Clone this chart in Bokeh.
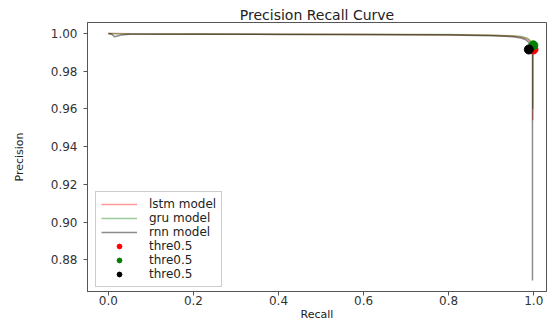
from bokeh.plotting import figure
from bokeh.embed import file_html
from bokeh.resources import INLINE
from bokeh.models import FixedTicker, PrintfTickFormatter, Range1d, Legend, LegendItem

# Data
recall_lstm = [0.0, 0.05, 0.2, 0.4, 0.6, 0.8, 0.9, 0.95, 0.97, 0.98, 0.987, 0.992, 0.996, 0.998, 0.998, 0.998]
precision_lstm = [1.0, 0.9998, 0.9997, 0.9996, 0.9995, 0.9993, 0.9990, 0.9986, 0.9981, 0.9975, 0.9967, 0.9955, 0.9935, 0.9915, 0.975, 0.954]

recall_gru = [0.0, 0.05, 0.2, 0.4, 0.6, 0.8, 0.9, 0.95, 0.97, 0.98, 0.987, 0.992, 0.996, 0.998, 0.998]
precision_gru = [1.0, 0.9998, 0.9997, 0.9996, 0.9995, 0.9994, 0.9991, 0.9988, 0.9984, 0.9979, 0.9972, 0.9962, 0.9945, 0.9925, 0.960]

recall_rnn = [0.0, 0.008, 0.015, 0.03, 0.05, 0.2, 0.4, 0.6, 0.8, 0.9, 0.95, 0.97, 0.98, 0.986, 0.99, 0.994, 0.997, 0.997, 0.997]
precision_rnn = [1.0, 0.9996, 0.9982, 0.9992, 0.9996, 0.9996, 0.9995, 0.9994, 0.9992, 0.9988, 0.9983, 0.9976, 0.9968, 0.9958, 0.9945, 0.9925, 0.990, 0.95, 0.869]

thr_lstm = ([0.9995], [0.9915])
thr_gru = ([0.9990], [0.9937])
thr_rnn = ([0.9885], [0.9915])

x_ticks = [0.0, 0.2, 0.4, 0.6, 0.8, 1.0]
y_ticks = [0.88, 0.90, 0.92, 0.94, 0.96, 0.98, 1.00]

p = figure(width=550, height=323, output_backend="svg", toolbar_location=None,
           x_range=Range1d(-0.049, 1.03), y_range=Range1d(0.8632, 1.0058),
           title="Precision Recall Curve", x_axis_label="Recall", y_axis_label="Precision",
           min_border_left=87, min_border_right=4, min_border_top=22, min_border_bottom=4)

p.title.align = "center"
p.title.text_font = "DejaVu Sans"
p.title.text_font_size = "14px"
p.title.text_font_style = "normal"
p.title.text_color = "#222222"
p.title.standoff = 0
p.title.offset = 0

p.xgrid.visible = False
p.ygrid.visible = False
p.outline_line_color = "#555555"
p.background_fill_color = "white"
p.border_fill_color = "white"

for ax in (p.xaxis[0], p.yaxis[0]):
    ax.axis_label_text_font = "DejaVu Sans"
    ax.axis_label_text_font_size = "11px"
    ax.axis_label_text_font_style = "normal"
    ax.axis_label_text_color = "#222222"
    ax.major_label_text_font = "DejaVu Sans"
    ax.major_label_text_font_size = "12px"
    ax.major_label_text_color = "#333333"
    ax.axis_line_color = "#555555"
    ax.major_tick_line_color = "#555555"
    ax.major_tick_out = 4
    ax.major_tick_in = 0
    ax.minor_tick_line_color = None

p.xaxis.major_label_standoff = 0
p.xaxis.axis_label_standoff = 0
p.yaxis.major_label_standoff = 6
p.yaxis.axis_label_standoff = 22

p.xaxis.ticker = FixedTicker(ticks=x_ticks)
p.yaxis.ticker = FixedTicker(ticks=y_ticks)
p.xaxis.formatter = PrintfTickFormatter(format="%.1f")
p.yaxis.formatter = PrintfTickFormatter(format="%.2f")

l1 = p.line(recall_lstm, precision_lstm, line_color="red", line_alpha=0.4, line_width=1.5)
l2 = p.line(recall_gru, precision_gru, line_color="green", line_alpha=0.4, line_width=1.5)
l3 = p.line(recall_rnn, precision_rnn, line_color="black", line_alpha=0.45, line_width=1.5)
s1 = p.scatter(thr_lstm[0], thr_lstm[1], size=9, color="red")
s2 = p.scatter(thr_gru[0], thr_gru[1], size=9, color="green")
s3 = p.scatter(thr_rnn[0], thr_rnn[1], size=9, color="black")

legend = Legend(items=[
    LegendItem(label="lstm model", renderers=[l1]),
    LegendItem(label="gru model", renderers=[l2]),
    LegendItem(label="rnn model", renderers=[l3]),
    LegendItem(label="thre0.5", renderers=[s1]),
    LegendItem(label="thre0.5", renderers=[s2]),
    LegendItem(label="thre0.5", renderers=[s3]),
], location=(8, 4))
legend.label_text_font = "DejaVu Sans"
legend.label_text_font_size = "12px"
legend.label_text_color = "#222222"
legend.label_height = 12
legend.glyph_height = 12
legend.glyph_width = 36
legend.label_standoff = 12
legend.spacing = 0
legend.padding = 5
legend.margin = 0
legend.border_line_color = "#cccccc"
legend.border_line_alpha = 1
legend.background_fill_alpha = 0.8
p.add_layout(legend)

open("out.html", "w").write(file_html(p, INLINE))
